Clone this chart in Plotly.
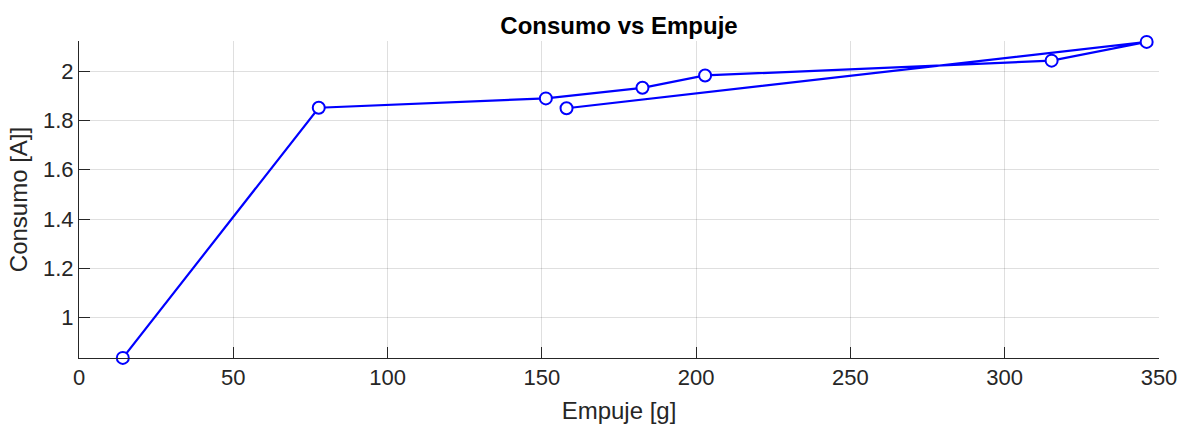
import plotly.graph_objects as go

empuje = [14.2, 77.7, 151.3, 182.6, 202.9, 315.2, 346.0, 158.0]
consumo = [0.837, 1.851, 1.889, 1.932, 1.982, 2.042, 2.118, 1.849]

x_ticks = [0, 50, 100, 150, 200, 250, 300, 350]
y_ticks = [1, 1.2, 1.4, 1.6, 1.8, 2]
y_tick_text = ["1", "1.2", "1.4", "1.6", "1.8", "2"]

FONT = "Liberation Sans, Arial, Helvetica, sans-serif"
AX = "#262626"
GRID = "rgba(38,38,38,0.15)"

fig = go.Figure()
fig.add_trace(go.Scatter(
    x=empuje, y=consumo, mode="lines+markers",
    line=dict(color="#0000ff", width=2.2),
    marker=dict(symbol="circle", size=12, color="white",
                line=dict(color="#0000ff", width=2)),
    cliponaxis=False, showlegend=False,
))

fig.update_layout(
    width=1189, height=431,
    margin=dict(l=79, r=30, t=41, b=73),
    paper_bgcolor="white", plot_bgcolor="white",
    font=dict(family=FONT, color=AX, size=22),
    title=dict(text="<b>Consumo vs Empuje</b>", x=0.5, xref="paper", xanchor="center",
               y=1 - 26 / 431, yref="container", yanchor="middle",
               font=dict(family=FONT, size=24, color="#000000")),
)
fig.update_xaxes(
    range=[0, 350], tickvals=x_ticks, ticks="inside", ticklen=11, tickwidth=1,
    tickcolor=AX, showline=True, linecolor=AX, linewidth=1, mirror=False,
    showgrid=True, gridcolor=GRID, gridwidth=1, zeroline=False,
    tickfont=dict(size=22, color=AX),
    title=dict(text="Empuje [g]", font=dict(size=24, color=AX), standoff=12),
)
fig.update_yaxes(
    range=[0.8366, 2.1217], tickvals=y_ticks, ticktext=y_tick_text, ticks="inside",
    ticklen=11, tickwidth=1, tickcolor=AX, showline=True, linecolor=AX, linewidth=1,
    mirror=False, showgrid=True, gridcolor=GRID, gridwidth=1, zeroline=False,
    tickfont=dict(size=22, color=AX),
    title=dict(text="Consumo [A]]", font=dict(size=24, color=AX), standoff=8),
)

fig.write_html("out.html")
